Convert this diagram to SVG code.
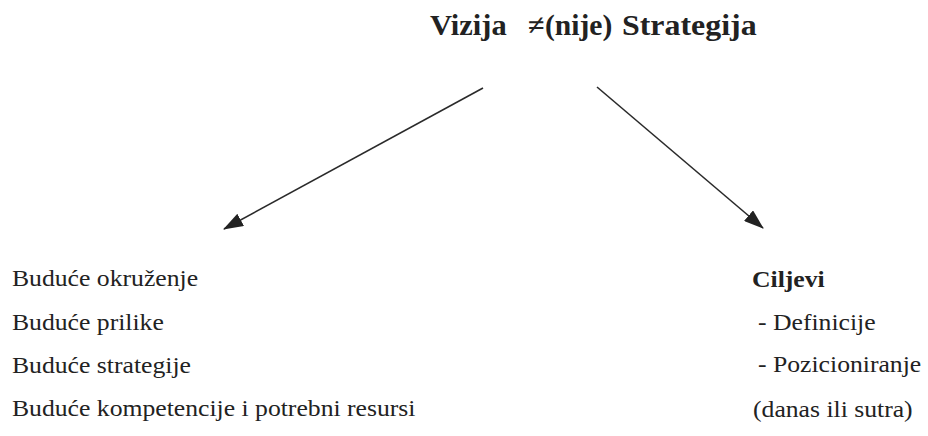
<svg xmlns="http://www.w3.org/2000/svg" width="928" height="436" viewBox="0 0 928 436">
<defs>
<style>
.t{font-family:'Liberation Serif','Times New Roman',serif;font-size:29px;font-weight:bold;fill:#222;}
.b{font-family:'Liberation Serif','Times New Roman',serif;font-size:24px;fill:#222;}
.bb{font-family:'Liberation Serif','Times New Roman',serif;font-size:24px;font-weight:bold;fill:#222;}
.c{stroke:#2a2a2a;stroke-width:1.6;fill:none;}
</style>
<marker id="ah" viewBox="0 0 20 14" refX="19" refY="7" markerWidth="20" markerHeight="14" markerUnits="userSpaceOnUse" orient="auto">
<path d="M0,0 L20,7 L0,14 Z" fill="#222"/>
</marker>
</defs>
<rect width="928" height="436" fill="#fff"/>
<g id="title">
<text class="t" transform="translate(430,35) scale(1.05,1)">Vizija</text>
<text class="t" transform="translate(528,35) scale(1.05,1)">≠</text>
<text class="t" transform="translate(545,35) scale(1.02,1)">(nije)</text>
<text class="t" transform="translate(622,35) scale(1.1,1)">Strategija</text>
</g>
<g id="vizija-list">
<text class="b" transform="translate(12,286) scale(1.07,1)">Buduće okruženje</text>
<text class="b" transform="translate(12,330) scale(1.07,1)">Buduće prilike</text>
<text class="b" transform="translate(12,373) scale(1.07,1)">Buduće strategije</text>
<text class="b" transform="translate(12,416) scale(1.07,1)">Buduće kompetencije i potrebni resursi</text>
</g>
<g id="strategija-list">
<text class="bb" transform="translate(752,287) scale(1.07,1)">Ciljevi</text>
<text class="b" transform="translate(758,330) scale(1.07,1)">- Definicije</text>
<text class="b" transform="translate(758,372) scale(1.07,1)">- Pozicioniranje</text>
<text class="b" transform="translate(753,417) scale(1.07,1)">(danas ili sutra)</text>
</g>
<g id="connectors">
<line class="c" x1="483" y1="88" x2="224" y2="229" marker-end="url(#ah)"/>
<line class="c" x1="597" y1="87" x2="763" y2="228" marker-end="url(#ah)"/>
</g>
</svg>
